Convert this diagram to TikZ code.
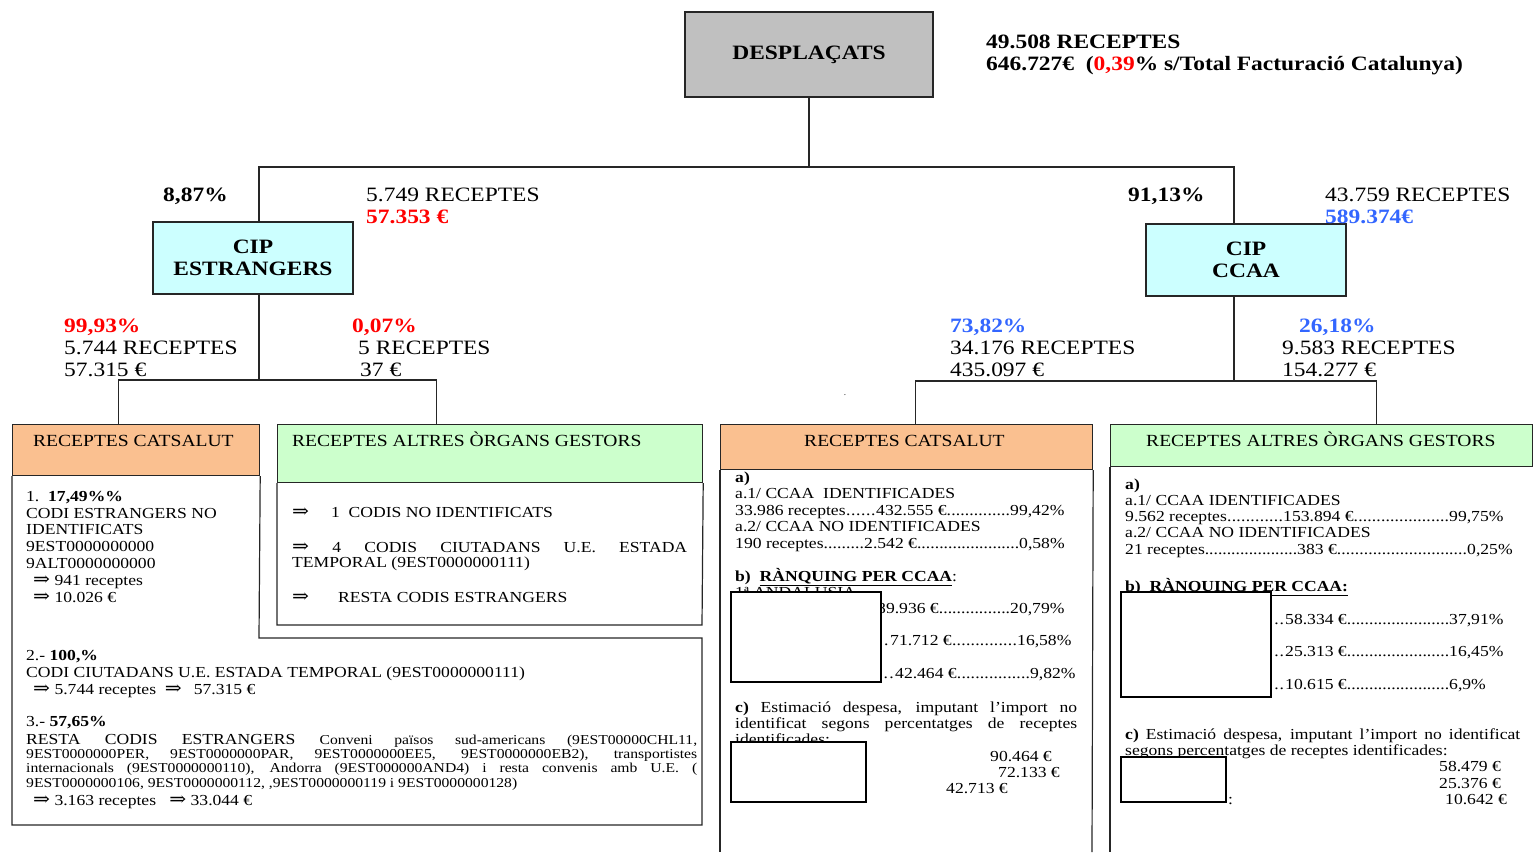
\documentclass[tikz,border=0pt]{standalone}
\usepackage{fontspec}
\setmainfont{Liberation Serif}[FakeStretch=1.15]
\newfontfamily\symfont{DejaVu Serif}[Scale=1.2, FakeStretch=1.1]
\newcommand\RA{{\symfont ⇒}}
\definecolor{hdrorange}{HTML}{FAC090}
\definecolor{hdrgreen}{HTML}{CCFFCC}
\definecolor{cipcyan}{HTML}{CCFFFF}
\definecolor{despgray}{HTML}{C0C0C0}
\definecolor{myred}{HTML}{FF0000}
\definecolor{myblue}{HTML}{3366FF}
\newcommand\fld[2]{\makebox[#1][l]{#2\xleaders\hbox{.}\hfill}}
\begin{document}
\begin{tikzpicture}[x=1pt,y=-1pt,
  conn/.style={line width=1.2pt, draw=black!85},
  boxline/.style={line width=1.2pt, draw=black!85},
  mask/.style={draw=black, fill=white, line width=2.6pt},
  bigbox/.style={draw=black!85, line width=1.2pt, inner sep=0pt, align=center,
     font=\fontsize{20.4}{22}\selectfont\bfseries},
  hdrbox/.style={draw=black!85, line width=1.2pt, inner sep=0pt, anchor=north west},
  lbl/.style={anchor=base west, inner sep=0pt, align=left, font=\fontsize{20.4}{21.6}\selectfont},
  hdr/.style={anchor=base west, inner sep=0pt, font=\fontsize{17}{19}\selectfont},
  body/.style={anchor=base west, inner sep=0pt, align=left, font=\fontsize{15.3}{16.6}\selectfont},
  smalltxt/.style={anchor=base west, inner sep=0pt, align=left, font=\fontsize{13.6}{14.7}\selectfont}
]
\useasboundingbox (0,0) rectangle (1533,852);
% (multi-line text nodes are placed at the baseline of their LAST line)

% ---------- top ----------
\node[bigbox, fill=despgray, minimum width=248pt, minimum height=85pt] (desp) at (809,54.5) {DESPLAÇATS};
\node[lbl, font=\fontsize{20.4}{22}\selectfont\bfseries] (tot) at (986,70)
  {49.508 RECEPTES\\646.727€\ \ (\textcolor{myred}{0,39}\% s/Total Facturació Catalunya)};

% ---------- CIP boxes ----------
\node[bigbox, fill=cipcyan, minimum width=200pt, minimum height=72pt] (cipE) at (253,258) {CIP\\ESTRANGERS};
\node[bigbox, fill=cipcyan, minimum width=200pt, minimum height=72pt] (cipC) at (1246,260) {CIP\\CCAA};

\coordinate (busTop) at (809,167);
\coordinate (jE) at (259,380);
\coordinate (jC) at (1234,381);

% ---------- header boxes ----------
\node[hdrbox, fill=hdrorange, minimum width=247pt, minimum height=51pt] (catL) at (12,424) {};
\node[hdrbox, fill=hdrgreen, minimum width=425pt, minimum height=58pt] (altL) at (277,424) {};
\node[hdrbox, fill=hdrorange, minimum width=372pt, minimum height=45pt] (catR) at (720,424) {};
\node[hdrbox, fill=hdrgreen, minimum width=422pt, minimum height=42pt] (altR) at (1110,424) {};

% ---------- connectors ----------
\draw[conn] (desp.south) -- (busTop);
\draw[conn] ([xshift=6pt]cipE.north) |- (busTop) -| ([xshift=-12pt]cipC.north);
\draw[conn] ([xshift=6pt]cipE.south) -- (jE);
\draw[conn] ([xshift=-17.5pt]catL.north) |- (jE) -| ([xshift=-53.5pt]altL.north);
\draw[conn] ([xshift=-12pt]cipC.south) -- (jC);
\draw[conn] ([xshift=9pt]catR.north) |- (jC) -| ([xshift=55pt]altR.north);

% ---------- box bodies ----------
\draw[boxline] (catL.south west) -- (12,825) -- (702,825) -- (702,638) -- (259,638) -- (catL.south east);
\draw[boxline] (altL.south west) -- (277,625) -- (702,625) -- (altL.south east);
\draw[boxline] (catR.south west) -- (720,852);
\draw[boxline] (catR.south east) -- (1092,852);
\draw[boxline] (altR.south west) -- (1110,852);

% ---------- branch labels ----------
\node[lbl, font=\fontsize{20.4}{22}\selectfont\bfseries] (pE) at (163,201) {8,87\%};
\node[lbl, font=\fontsize{20.4}{22}\selectfont] (nE) at (366,223) {5.749 RECEPTES\\\textcolor{myred}{\textbf{57.353 €}}};
\node[lbl, font=\fontsize{20.4}{22}\selectfont\bfseries] (pC) at (1128,201) {91,13\%};
\node[lbl, font=\fontsize{20.4}{22}\selectfont] (nC) at (1325,223) {43.759 RECEPTES\\\textcolor{myblue}{\textbf{589.374€}}};

\node[lbl] (l5) at (64,376) {\textcolor{myred}{\textbf{99,93\%}}\\5.744 RECEPTES\\57.315 €};
\node[lbl] (l6) at (352,376) {\textcolor{myred}{\textbf{0,07\%}}\\\hspace*{6pt}5 RECEPTES\\\hspace*{8pt}37 €};
\node[lbl] (l7) at (950,376) {\textcolor{myblue}{\textbf{73,82\%}}\\34.176 RECEPTES\\435.097 €};
\node[lbl] (l8) at (1282,376) {\hspace*{17pt}\textcolor{myblue}{\textbf{26,18\%}}\\9.583 RECEPTES\\154.277 €};
\node[anchor=base, inner sep=0pt, font=\fontsize{8}{8}\selectfont] (dot) at (845,395) {.};

% ---------- headers text ----------
\node[hdr] (h1) at (33,446) {RECEPTES CATSALUT};
\node[hdr] (h2) at (292,446) {RECEPTES ALTRES ÒRGANS GESTORS};
\node[hdr] (h3) at (804,446) {RECEPTES CATSALUT};
\node[hdr] (h4) at (1146,446) {RECEPTES ALTRES ÒRGANS GESTORS};

% ---------- left catsalut ----------
\node[body, font=\fontsize{15.3}{16.8}\selectfont] (lc) at (26,602)
 {1.\ \ \textbf{17,49\%\%}\\CODI ESTRANGERS NO\\IDENTIFICATS\\9EST0000000000\\9ALT0000000000\\
  \hspace*{7pt}\RA\ 941 receptes\\\hspace*{7pt}\RA\ 10.026 €};

% ---------- left altres ----------
\node[body] (g1) at (292,517) {\RA\hspace{22pt}1\ \ CODIS NO IDENTIFICATS};
\node[body, font=\fontsize{15.3}{15.5}\selectfont] (g2) at (292,567.5)
 {\makebox[395pt][s]{\RA\ 4 CODIS CIUTADANS U.E. ESTADA}\\TEMPORAL (9EST0000000111)};
\node[body] (g3) at (292,602) {\RA\hspace{29pt}RESTA CODIS ESTRANGERS};

% ---------- bottom left ----------
\node[body, font=\fontsize{15.3}{17}\selectfont] (b1) at (26,694)
 {2.- \textbf{100,\%}\\CODI CIUTADANS U.E. ESTADA TEMPORAL (9EST0000000111)\\
  \hspace*{7pt}\RA\ 5.744 receptes\ \ \RA\hspace{12pt}57.315 €};
\node[body] (b2) at (26,726) {3.- \textbf{57,65\%}};
\node[body] (b3) at (26,744)
 {\makebox[671pt][s]{RESTA CODIS ESTRANGERS {\fontsize{13.6}{14.7}\selectfont Conveni països sud-americans (9EST00000CHL11,}}};
\node[smalltxt] (b4) at (26,787.4)
 {\makebox[671pt][s]{9EST0000000PER, 9EST0000000PAR, 9EST0000000EE5, 9EST0000000EB2), transportistes}\\
  \makebox[671pt][s]{internacionals (9EST0000000110), Andorra (9EST000000AND4) i resta convenis amb U.E. (}\\
  9EST0000000106, 9EST0000000112, ,9EST0000000119 i 9EST0000000128)};
\node[body] (b5) at (26,805) {\hspace*{7pt}\RA\ 3.163 receptes\ \ \ \RA\ 33.044 €};

% ---------- right catsalut ----------
\node[body, font=\fontsize{15.3}{16.5}\selectfont] (rc1) at (735,548)
 {\textbf{a)}\\a.1/ CCAA\ \ IDENTIFICADES\\
  \fld{141pt}{33.986 receptes}\fld{134pt}{432.555 €}99,42\%\\
  a.2/ CCAA NO IDENTIFICADES\\
  \fld{129pt}{190 receptes}\fld{155pt}{2.542 €}0,58\%};
\node[body] (rc2) at (735,581) {\textbf{b)\ \ \underline{RÀNQUING PER CCAA}}:};
\node[body] (rc3) at (735,597) {1ª ANDALUSIA};
\node[body] (rc4) at (877,613) {\fld{133pt}{89.936 €}20,79\%};
\node[body] (rc5) at (882,645) {\fld{8pt}{}\fld{127pt}{71.712 €}16,58\%};
\node[body] (rc6) at (882,678) {\fld{13pt}{}\fld{135pt}{42.464 €}9,82\%};
\node[body, font=\fontsize{15.3}{16}\selectfont] (rc7) at (735,744)
 {\makebox[342pt][s]{\textbf{c)} Estimació despesa, imputant l’import no}\\
  \makebox[342pt][s]{identificat segons percentatges de receptes}\\identificades:};
\node[body] (rv1) at (990,761) {90.464 €};
\node[body] (rv2) at (998,777) {72.133 €};
\node[body] (rv3) at (946,793) {42.713 €};
\draw[mask] (731,592) rectangle (881,682);
\draw[mask] (731,742) rectangle (866,802);

% ---------- right altres ----------
\node[body, font=\fontsize{15.3}{16.25}\selectfont] (rg1) at (1125,554)
 {\textbf{a)}\\a.1/ CCAA IDENTIFICADES\\
  \fld{158pt}{9.562 receptes}\fld{166pt}{153.894 €}99,75\%\\
  a.2/ CCAA NO IDENTIFICADES\\
  \fld{172pt}{21 receptes}\fld{170pt}{383 €}0,25\%};
\node[body] (rg2) at (1125,591) {\underline{\textbf{b)\ \ RÀNQUING PER CCAA:}}};
\node[body] (rg3) at (1273,624) {\fld{12pt}{}\fld{164pt}{58.334 €}37,91\%};
\node[body] (rg4) at (1273,656) {\fld{12pt}{}\fld{164pt}{25.313 €}16,45\%};
\node[body] (rg5) at (1273,689) {\fld{12pt}{}\fld{164pt}{10.615 €}6,9\%};
\node[body, font=\fontsize{15.3}{16}\selectfont] (rg6) at (1125,755)
 {\makebox[395pt][s]{\textbf{c)} Estimació despesa, imputant l’import no identificat}\\
  segons percentatges de receptes identificades:};
\node[body] (rg7) at (1228,804) {:};
\node[body] (rw1) at (1439,771) {58.479 €};
\node[body] (rw2) at (1439,788) {25.376 €};
\node[body] (rw3) at (1445,804) {10.642 €};
\draw[mask] (1121,592) rectangle (1271,697);
\draw[mask] (1121,757) rectangle (1226,802);
\end{tikzpicture}
\end{document}
